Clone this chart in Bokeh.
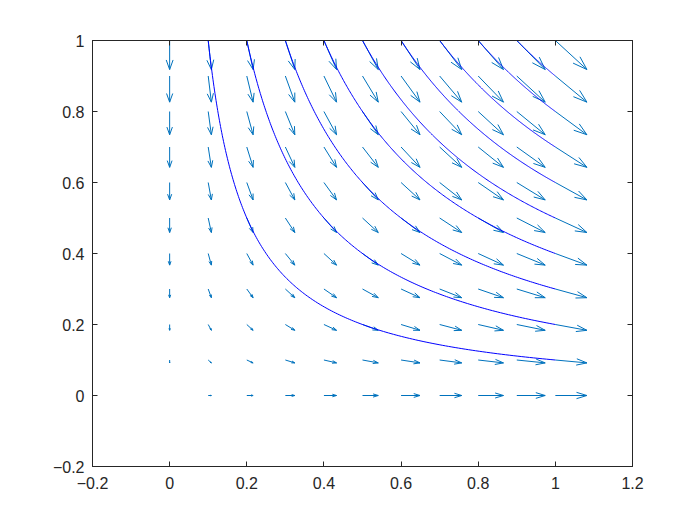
import numpy as np
from bokeh.plotting import figure
from bokeh.models import LinearAxis, FixedTicker, Range1d
from bokeh.embed import file_html
from bokeh.resources import INLINE

# grid of the vector field
x_vals = [0.0, 0.1, 0.2, 0.3, 0.4, 0.5, 0.6, 0.7, 0.8, 0.9, 1.0]
y_vals = [0.0, 0.1, 0.2, 0.3, 0.4, 0.5, 0.6, 0.7, 0.8, 0.9, 1.0]
# u depends only on the column (x), v only on the row (y)
u_by_col = [0.0, 0.1, 0.2, 0.3, 0.4, 0.5, 0.6, 0.7, 0.8, 0.9, 1.0]
v_by_row = [0.0, -0.1, -0.2, -0.3, -0.4, -0.5, -0.6, -0.7, -0.8, -0.9, -1.0]

# streamline start points (top edge)
start_x = [0.1, 0.2, 0.3, 0.4, 0.5, 0.6, 0.7, 0.8, 0.9]
start_y = [1.0, 1.0, 1.0, 1.0, 1.0, 1.0, 1.0, 1.0, 1.0]

x_ticks = [-0.2, 0, 0.2, 0.4, 0.6, 0.8, 1, 1.2]
y_ticks = [-0.2, 0, 0.2, 0.4, 0.6, 0.8, 1]

AX = "#262626"
QC = "#0072BD"

p = figure(width=684, height=500, output_backend="svg", toolbar_location=None,
           x_range=Range1d(-0.2, 1.2), y_range=Range1d(-0.2, 1.0),
           frame_width=540, frame_height=426,
           min_border_left=92, min_border_top=40, min_border_right=52, min_border_bottom=34,
           x_axis_location=None, y_axis_location=None)
p.grid.visible = False
p.outline_line_color = AX
p.outline_line_width = 1
p.background_fill_color = "white"
p.border_fill_color = "white"

def mk_axis(ticks, labels=True, standoff=8):
    ax = LinearAxis(ticker=FixedTicker(ticks=ticks))
    ax.axis_line_color = AX
    ax.major_tick_line_color = AX
    ax.major_tick_in = 5
    ax.major_tick_out = 0
    ax.minor_tick_line_color = None
    ax.major_label_text_font = "Liberation Sans"
    ax.major_label_text_font_size = "16px"
    ax.major_label_text_color = AX
    ax.major_label_standoff = standoff
    if not labels:
        ax.major_label_text_alpha = 0
    return ax

p.add_layout(mk_axis(x_ticks, standoff=10), "below")
p.add_layout(mk_axis(y_ticks, standoff=8), "left")
p.add_layout(mk_axis(x_ticks, False, 0), "above")
p.add_layout(mk_axis(y_ticks, False, 0), "right")

# MATLAB-like quiver autoscale
X, Y = np.meshgrid(x_vals, y_vals)
U = np.tile(np.array(u_by_col), (len(y_vals), 1))
V = np.tile(np.array(v_by_row)[:, None], (1, len(x_vals)))
n = m = len(x_vals)
delx = (max(x_vals) - min(x_vals)) / n
dely = (max(y_vals) - min(y_vals)) / m
del2 = delx ** 2 + dely ** 2
ln = np.sqrt((U ** 2 + V ** 2) / del2)
s = 0.9 / ln.max()
U = U * s
V = V * s

alpha, beta = 0.33, 0.33
eps = 1e-12
xs, ys = [], []
for x, y, u, v in zip(X.ravel(), Y.ravel(), U.ravel(), V.ravel()):
    xs.append([x, x + u]); ys.append([y, y + v])
    hx = [x + u - alpha * (u + beta * (v + eps)), x + u, x + u - alpha * (u - beta * (v + eps))]
    hy = [y + v - alpha * (v - beta * (u + eps)), y + v, y + v - alpha * (v + beta * (u + eps))]
    xs.append(hx); ys.append(hy)
p.multi_line(xs, ys, line_color=QC, line_width=1)

# streamlines of the field (u, v) = (x, -y), integrated from the start points
sxs, sys_ = [], []
for x0, y0 in zip(start_x, start_y):
    t_end = np.log(1.0 / x0)
    t = np.linspace(0, t_end, 200)
    sxs.append(list(x0 * np.exp(t)))
    sys_.append(list(y0 * np.exp(-t)))
p.multi_line(sxs, sys_, line_color="#0000FF", line_width=1)

open("out.html", "w").write(file_html(p, INLINE))
